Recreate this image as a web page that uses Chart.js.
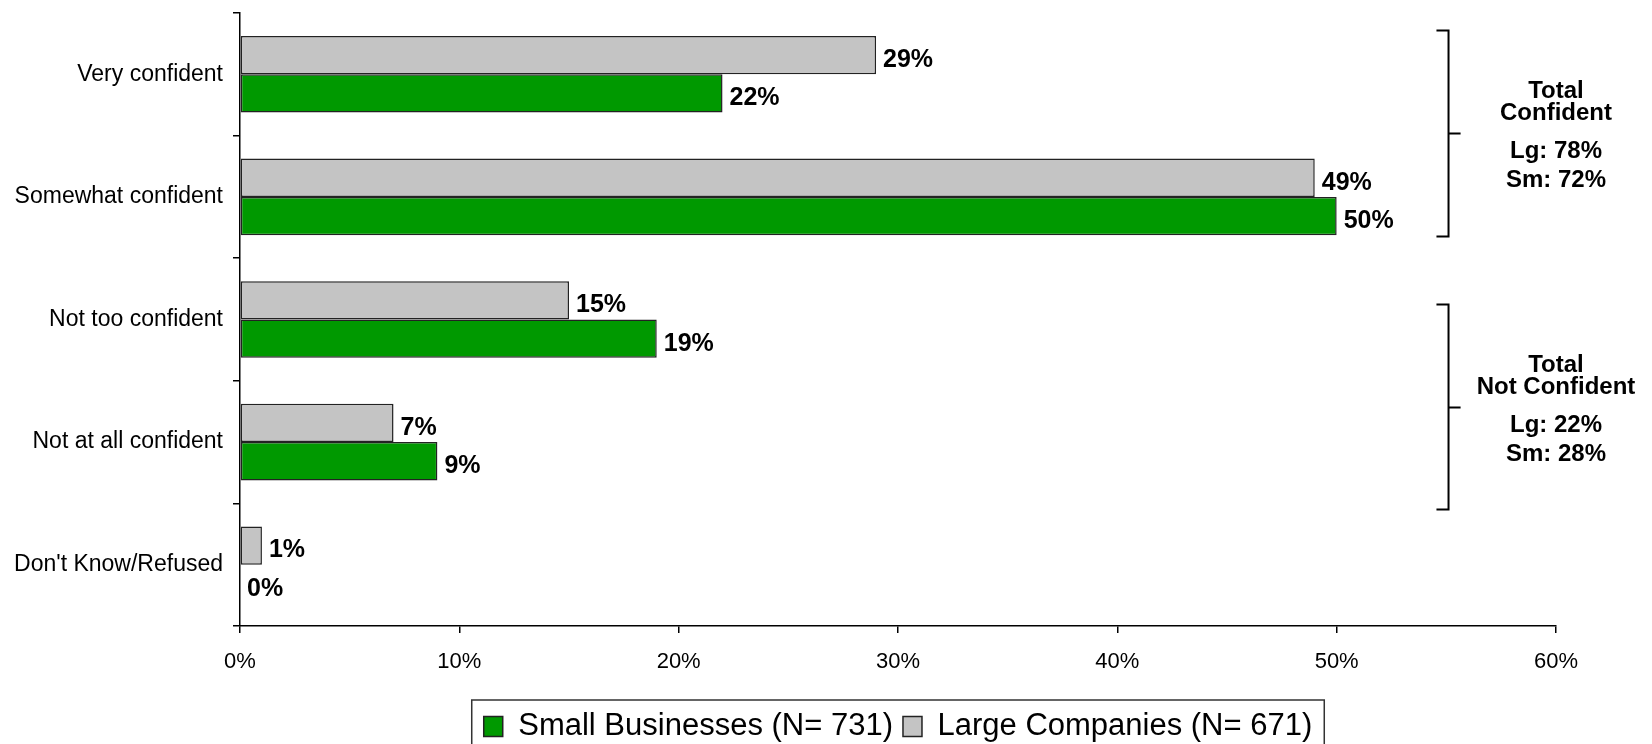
<!DOCTYPE html>
<html><head><meta charset="utf-8">
<script src="https://cdn.jsdelivr.net/npm/chart.js@4.4.0/dist/chart.umd.min.js"></script>
<style>html,body{margin:0;padding:0;background:#fff;overflow:hidden;width:1652px;height:744px}canvas{display:block}</style>
</head><body>
<canvas id="c" width="1652" height="752"></canvas>
<script>
const categories = ["Very confident", "Somewhat confident", "Not too confident", "Not at all confident", "Don't Know/Refused"];
const largeValues = [29, 49, 15, 7, 1];
const smallValues = [22, 50, 19, 9, 0];
const largeLabel = "Large Companies (N= 671)";
const smallLabel = "Small Businesses (N= 731)";
const xMin = 0, xMax = 60, xStep = 10;
const groupTitles = [["Total", "Confident"], ["Total", "Not Confident"]];
const groupLg = [78, 22];
const groupSm = [72, 28];

const FONT = '"Liberation Sans", Arial, Helvetica, sans-serif';
Chart.defaults.font.family = FONT;
Chart.defaults.color = '#000';

const valueLabels = {
  id: 'valueLabels',
  afterDatasetsDraw(chart) {
    const ctx = chart.ctx;
    ctx.save();
    ctx.font = 'bold 25px ' + FONT;
    ctx.fillStyle = '#000';
    ctx.textAlign = 'left';
    ctx.textBaseline = 'middle';
    chart.data.datasets.forEach((ds, di) => {
      const meta = chart.getDatasetMeta(di);
      meta.data.forEach((el, i) => {
        ctx.fillText(ds.data[i] + '%', el.x + 7, el.y + 5);
      });
    });
    ctx.restore();
  }
};

const brackets = {
  id: 'brackets',
  afterDraw(chart) {
    const {ctx, scales: {x, y}} = chart;
    const y0 = y.getPixelForValue(0);
    const step = y.getPixelForValue(1) - y0;
    const spans = [[-0.357, 1.322, 0.482], [1.877, 3.549, 2.717]];
    const xl = x.getPixelForValue(55.1), xs = x.getPixelForValue(54.55), xm = x.getPixelForValue(55.65);
    const xt = x.getPixelForValue(60);
    ctx.save();
    ctx.strokeStyle = '#000';
    ctx.lineWidth = 2;
    spans.forEach((s, gi) => {
      const top = y0 + s[0] * step, bot = y0 + s[1] * step, mid = y0 + s[2] * step;
      ctx.beginPath();
      ctx.moveTo(xs, top); ctx.lineTo(xl, top); ctx.lineTo(xl, bot); ctx.lineTo(xs, bot);
      ctx.moveTo(xl, mid); ctx.lineTo(xm, mid);
      ctx.stroke();
      ctx.fillStyle = '#000';
      ctx.font = 'bold 24px ' + FONT;
      ctx.textAlign = 'center';
      ctx.textBaseline = 'middle';
      ctx.fillText(groupTitles[gi][0], xt, mid - 42);
      ctx.fillText(groupTitles[gi][1], xt, mid - 20);
      ctx.fillText('Lg: ' + groupLg[gi] + '%', xt, mid + 18);
      ctx.fillText('Sm: ' + groupSm[gi] + '%', xt, mid + 47);
    });
    ctx.restore();
  }
};

const legendBorder = {
  id: 'legendBorder',
  afterDraw(chart) {
    const lg = chart.legend;
    if (!lg || !lg.legendHitBoxes || !lg.legendHitBoxes.length) return;
    const hb = lg.legendHitBoxes;
    const left = Math.min(...hb.map(h => h.left)) - 12;
    const right = Math.max(...hb.map(h => h.left + h.width)) + 12;
    const top = hb[0].top - 11;
    const ctx = chart.ctx;
    ctx.save();
    ctx.strokeStyle = '#333';
    ctx.lineWidth = 1.5;
    ctx.strokeRect(left, top, right - left, 80);
    ctx.restore();
  }
};

new Chart(document.getElementById('c'), {
  type: 'bar',
  data: {
    labels: categories,
    datasets: [
      {label: largeLabel, data: largeValues, backgroundColor: '#C4C4C4', borderColor: '#222', borderWidth: 1.5, borderSkipped: false},
      {label: smallLabel, data: smallValues, backgroundColor: '#009900', borderColor: '#222', borderWidth: 1.5, borderSkipped: false}
    ]
  },
  options: {
    indexAxis: 'y',
    responsive: false,
    animation: false,
    devicePixelRatio: 1,
    layout: {padding: {top: 13, right: 96, left: 0, bottom: 0}},
    datasets: {bar: {categoryPercentage: 0.625, barPercentage: 1}},
    scales: {
      x: {
        min: xMin, max: xMax,
        ticks: {stepSize: xStep, callback: v => v + '%', font: {size: 22}, color: '#000', padding: 16},
        grid: {drawOnChartArea: false, drawTicks: true, tickLength: 7, color: '#000', lineWidth: 1.5},
        border: {display: true, color: '#000', width: 1.5},
        afterFit: s => { s.height = 75; }
      },
      y: {
        ticks: {font: {size: 23}, color: '#000', padding: 10},
        grid: {drawOnChartArea: false, drawTicks: true, tickLength: 7, color: '#000', lineWidth: 1.5, offset: true},
        border: {display: true, color: '#000', width: 1.5},
        afterFit: s => { s.width = 240; s.paddingTop = 0; s.paddingBottom = 0; }
      }
    },
    plugins: {
      legend: {
        position: 'bottom', fullSize: false, reverse: true,
        labels: {font: {size: 31}, color: '#000', boxWidth: 19, boxHeight: 20, padding: 10}
      },
      tooltip: {enabled: false}
    }
  },
  plugins: [valueLabels, brackets, legendBorder]
});
</script>
</body></html>
